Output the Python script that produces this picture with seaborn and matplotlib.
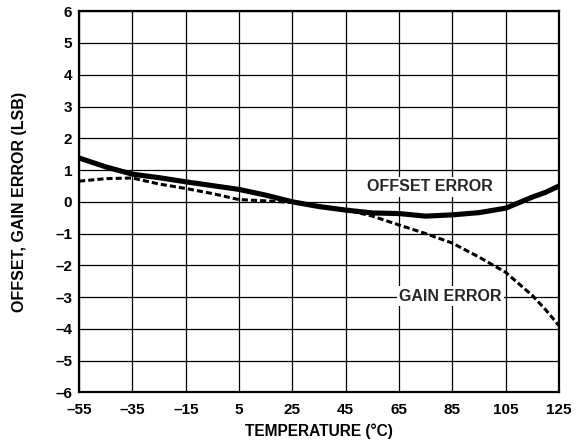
import matplotlib
matplotlib.use("Agg")
from matplotlib import pyplot as plt
import pandas as pd
import seaborn as sns

TEMP = [-55, -45, -35, -25, -15, -5, 5, 15, 25, 35, 45, 55, 65, 75, 85, 95, 105, 115, 120, 125]
OFFSET = [1.38, 1.1, 0.87, 0.76, 0.63, 0.51, 0.39, 0.21, 0.0, -0.15, -0.26, -0.35, -0.37, -0.45, -0.41, -0.34, -0.2, 0.15, 0.3, 0.5]
GAIN = [0.65, 0.73, 0.75, 0.56, 0.42, 0.26, 0.07, 0.03, -0.02, -0.12, -0.25, -0.45, -0.73, -1.0, -1.3, -1.74, -2.22, -2.95, -3.4, -3.9]

X_TICKS = [-55, -35, -15, 5, 25, 45, 65, 85, 105, 125]
Y_TICKS = list(range(-6, 7))

df = pd.DataFrame({"temp": TEMP, "offset": OFFSET, "gain": GAIN})

sns.set_theme(style="white")
plt.rcParams['font.family'] = ['Liberation Sans', 'DejaVu Sans']
plt.rcParams['font.weight'] = 'bold'

fig, ax = plt.subplots(figsize=(5.86, 4.48), dpi=100)
fig.subplots_adjust(left=0.135, right=0.954, top=0.975, bottom=0.124)

sns.lineplot(data=df, x="temp", y="gain", ax=ax, color="black", linewidth=2.2,
             linestyle=(0, (2.0, 1.0)), zorder=3)
sns.lineplot(data=df, x="temp", y="offset", ax=ax, color="black", linewidth=3.7, zorder=4)

ax.set_xlim(-55, 125)
ax.set_ylim(-6, 6)
ax.set_xticks(X_TICKS)
ax.set_yticks(Y_TICKS)
ax.set_xticklabels([str(t).replace("-", "\u2013") for t in X_TICKS], fontsize=11, fontweight="bold")
ax.set_yticklabels([str(t).replace("-", "\u2013") for t in Y_TICKS], fontsize=11, fontweight="bold")
ax.tick_params(axis="x", length=0, pad=7.5, colors="black")
ax.tick_params(axis="y", length=0, pad=5, colors="black")
ax.grid(True, color="black", linewidth=0.9)
for s in ax.spines.values():
    s.set_color("black")
    s.set_linewidth(1.6)

ax.set_xlabel("TEMPERATURE (°C)", fontsize=11.2, fontweight="bold", color="black", labelpad=5)
ax.set_ylabel("OFFSET, GAIN ERROR (LSB)", fontsize=11.5, fontweight="bold", color="black", labelpad=20)

box = dict(facecolor="white", edgecolor="none", pad=2)
ax.text(76.4, 0.47, "OFFSET ERROR", ha="center", va="center", fontsize=11.5,
        fontweight="bold", bbox=box, zorder=5)
ax.text(84.3, -2.97, "GAIN ERROR", ha="center", va="center", fontsize=11.5,
        fontweight="bold", bbox=box, zorder=5)

fig.savefig("out.png", dpi=100)
